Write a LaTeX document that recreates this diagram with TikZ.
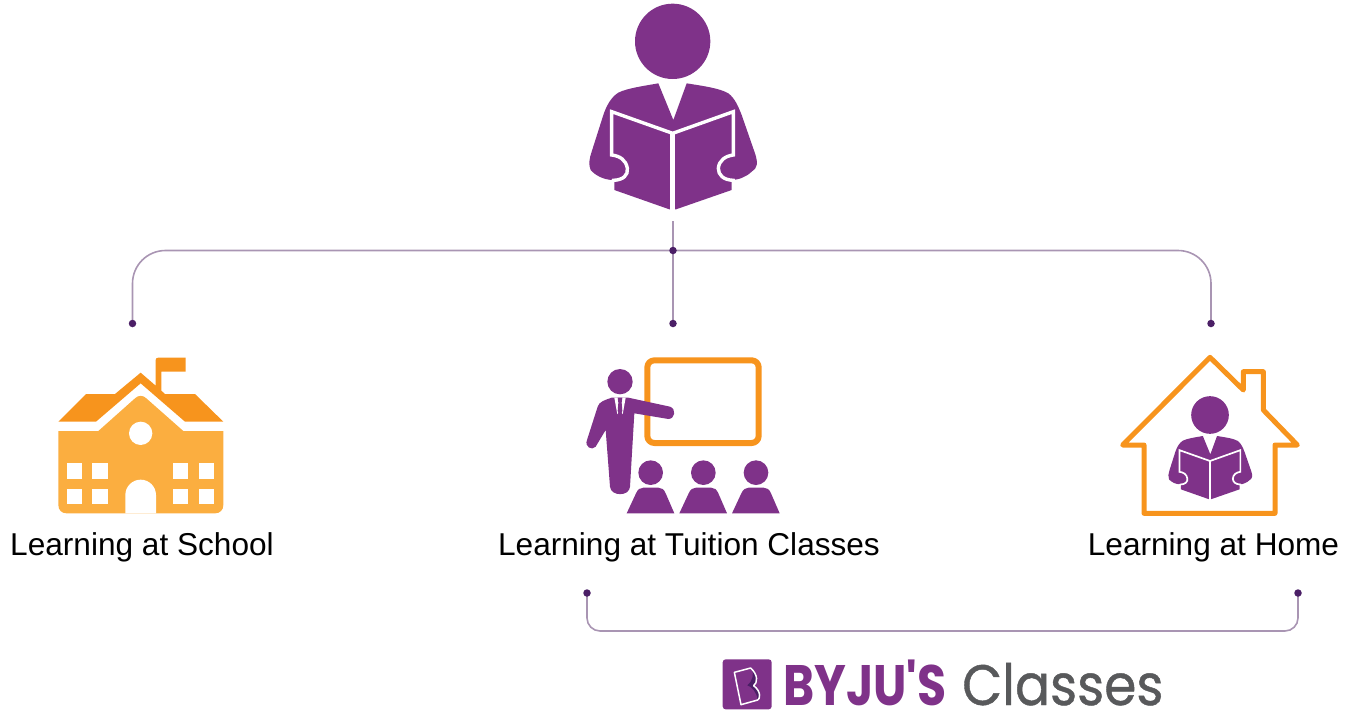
\documentclass[tikz,border=0pt]{standalone}
\usetikzlibrary{backgrounds}
\usepackage{fontspec}
\setmainfont{Liberation Sans}
\newfontfamily\logofont{Poppins}
\newfontfamily\logomedium{Poppins}[FakeBold=0.8]
\definecolor{tpurple}{HTML}{7F3289}
\definecolor{torange}{HTML}{F7941D}
\definecolor{tamber}{HTML}{FBAE40}
\definecolor{tline}{HTML}{A995B3}
\definecolor{tdot}{HTML}{4B1F66}
\definecolor{tgrey}{HTML}{58595B}
\tikzset{
  dotnode/.style={circle,fill=tdot,inner sep=0pt,minimum size=7.5pt},
  wire/.style={draw=tline,line width=1.6pt},
  labeltext/.style={anchor=base,inner sep=0pt,font=\fontsize{31.6}{38}\selectfont,text=black},
  orangeline/.style={draw=torange,line join=round,line cap=round}
}
\newcommand{\readerfig}[4]{%
\begin{scope}[shift={(#1,#2)},x=#3pt,y=-#3pt]
  \fill[tpurple] (308,124) circle[radius=113];
  \fill[tpurple] (265,250) -- (310,360) -- (350,250)
    .. controls (400,258) and (450,265) .. (475,280)
    .. controls (495,295) and (505,320) .. (515,345)
    -- (555,460)
    .. controls (565,490) and (562,505) .. (545,515)
    .. controls (530,530) and (505,540) .. (485,540)
    -- (485,570) -- (318,628) -- (298,628) -- (133,570) -- (133,545) -- (130,540)
    .. controls (100,540) and (75,525) .. (62,510)
    .. controls (55,495) and (58,475) .. (65,455)
    -- (100,345)
    .. controls (110,315) and (125,290) .. (145,278)
    .. controls (170,265) and (220,258) .. (265,250) -- cycle;
  \draw[white,line width=#4pt,line join=miter]
    (125,548) -- (130,541)
    .. controls (160,540) and (175,525) .. (172,505)
    .. controls (168,480) and (150,468) .. (125,465)
    -- (125,335) -- (308,400) -- (490,335) -- (490,465)
    .. controls (465,468) and (447,482) .. (445,505)
    .. controls (445,525) and (460,540) .. (490,541) -- (492,548);
  \draw[white,line width=1.4*#4pt] (308,400) -- (308,635);
\end{scope}}
\begin{document}
\begin{tikzpicture}[x=1pt,y=-1pt]
\useasboundingbox (0,0) rectangle (1346,710);

% connectors
\coordinate (topstub) at (673,221);
\node[dotnode] (hub) at (673,250.5) {};
\node[dotnode] (dleft) at (132.5,323.5) {};
\node[dotnode] (dmid) at (673,323.5) {};
\node[dotnode] (dright) at (1211,323.5) {};
\node[dotnode] (bleft) at (587,593) {};
\node[dotnode] (bright) at (1298,593) {};
\begin{pgfonlayer}{background}
\draw[wire] (topstub) -- (hub.center) -- (dmid.center);
\draw[wire,rounded corners=33pt] (hub.center) -| (dleft.center);
\draw[wire,rounded corners=33pt] (hub.center) -| (dright.center);
\draw[wire,rounded corners=13pt] (bleft.center) -- (587,631) -- (1298,631) -- (bright.center);
\end{pgfonlayer}

% top reader
\readerfig{570}{0}{0.33333}{3.4}

% school
\begin{scope}[shift={(40,345)},x=0.33333pt,y=-0.33333pt]
  \fill[torange] (55,230) -- (138,147) -- (225,147) -- (302,83) -- (347,122)
    -- (347,45) .. controls (347,40) and (350,38) .. (355,38) -- (437,38) -- (437,80) -- (364,80)
    -- (364,137) -- (375,147) -- (465,147) -- (550,230) -- (435,230) -- (302,115) -- (168,230) -- cycle;
  \fill[tamber] (55,258) -- (175,258) -- (285,160)
    .. controls (295,150) and (309,150) .. (319,160)
    -- (430,258) -- (550,258) -- (550,480)
    .. controls (550,495) and (540,505) .. (525,505)
    -- (80,505) .. controls (65,505) and (55,495) .. (55,480) -- cycle;
  \fill[white] (302,265) circle[radius=35];
  \foreach \wx in {80,157,399,476}
    \foreach \wy in {355,432}
      \fill[white] (\wx,\wy) rectangle ++(46,46);
  \fill[white] (256,505) -- (256,450) arc[start angle=180,end angle=360,radius=46] -- (348,505) -- cycle;
\end{scope}

% tuition
\begin{scope}[shift={(575,345)},x=0.33333pt,y=-0.33333pt]
  \draw[orangeline,line width=6pt,rounded corners=7pt] (217,46) rectangle (551,294);
  \draw[white,line width=11pt,line cap=round] (135,175) -- (280,204);
  \fill[tpurple] (135,110) circle[radius=38];
  \fill[tpurple] (110,158) -- (160,158) -- (285,185)
    .. controls (305,192) and (300,222) .. (280,222)
    -- (178,205) -- (165,425)
    .. controls (163,455) and (108,455) .. (105,425)
    -- (92,255) -- (62,305)
    .. controls (50,318) and (28,305) .. (36,285)
    -- (68,185) .. controls (72,170) and (90,165) .. (110,158) -- cycle;
  \fill[white] (118,158) -- (152,158) -- (143,208) -- (135,190) -- (127,208) -- cycle;
  \fill[tpurple] (128,158) -- (142,158) -- (140,173) -- (142,198) -- (135,212) -- (128,198) -- (130,173) -- cycle;
  \foreach \sx in {0,158,316} {
    \fill[tpurple] (227+\sx,383) circle[radius=37];
    \fill[tpurple] (155+\sx,505) -- (183+\sx,445)
      .. controls (188+\sx,433) and (196+\sx,428) .. (205+\sx,428)
      -- (250+\sx,428) .. controls (260+\sx,428) and (267+\sx,433) .. (272+\sx,445)
      -- (298+\sx,505) -- cycle;
  }
\end{scope}

% home
\begin{scope}[shift={(1110,345)},x=0.33333pt,y=-0.33333pt]
  \draw[orangeline,line width=5pt] (38,300) -- (300,37) -- (400,135) -- (400,80) -- (460,80)
    -- (460,195) -- (562,300) -- (495,300) -- (495,505) -- (102,505) -- (102,300) -- cycle;
\end{scope}
\readerfig{1158.67}{394.33}{0.16667}{1.7}

% labels
\node[labeltext] (lschool) at (142,555) {Learning at School};
\node[labeltext] (ltuition) at (689,555) {Learning at Tuition Classes};
\node[labeltext] (lhome) at (1213.5,555) {Learning at Home};

% logo
\begin{scope}[shift={(710,650)},x=0.33333pt,y=-0.33333pt]
  \fill[tpurple,rounded corners=3pt] (38,28) rectangle (185,178);
  \fill[tdot] (125,56) .. controls (146,78) and (143,98) .. (133,107)
     .. controls (155,125) and (150,148) .. (143,150)
     .. controls (140,125) and (125,110) .. (112,106)
     .. controls (130,90) and (132,72) .. (125,56) -- cycle;
  \draw[white,line width=1.5pt,line join=round] (73,67) -- (122,54)
     .. controls (145,75) and (143,98) .. (131,107)
     .. controls (155,125) and (150,148) .. (143,150)
     -- (93,164) -- cycle;
\end{scope}
\node[anchor=base west,inner sep=0pt,text=tpurple,xscale=0.83] (lbyju) at (783,705)
  {\logofont\bfseries\fontsize{57}{66}\selectfont BYJU'S};
\node[anchor=base west,inner sep=0pt,text=tgrey,xscale=0.91] (lclasses) at (962,705)
  {\logomedium\fontsize{57}{66}\selectfont Classes};
\end{tikzpicture}
\end{document}
